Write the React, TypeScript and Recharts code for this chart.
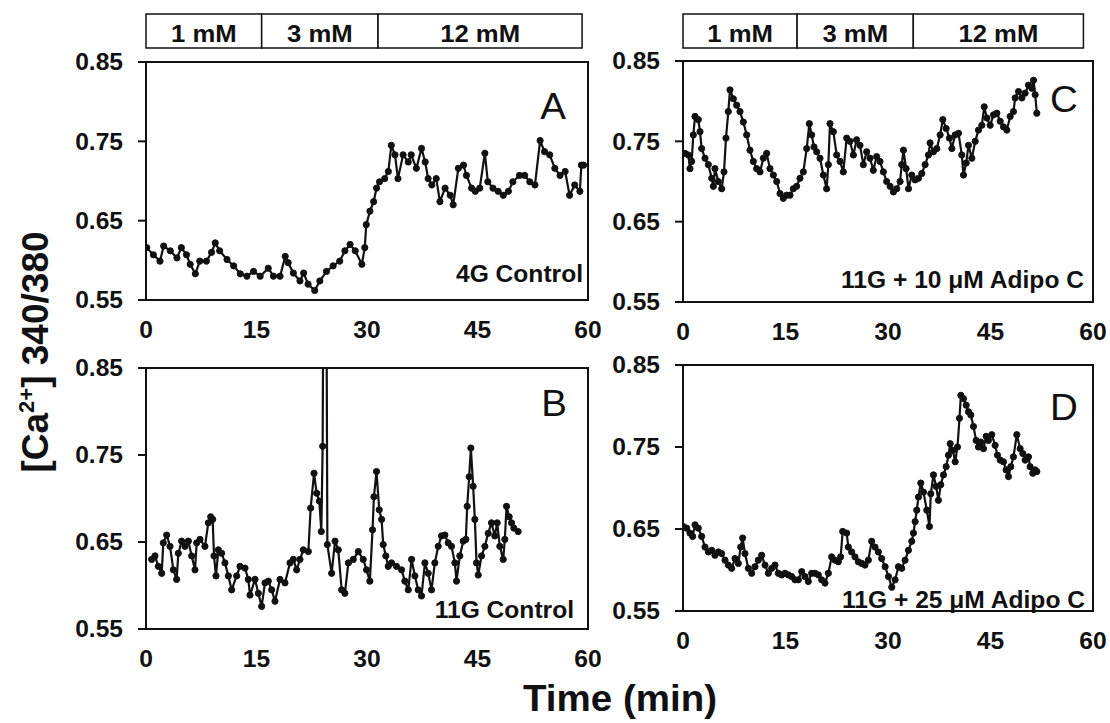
import { Line, LineChart, ReferenceArea, XAxis, YAxis } from 'recharts'

// time (min) and fura-2 ratio
const timeA = [
  0.1, 1.0, 1.9, 2.4, 3.3, 4.2, 4.8, 5.5, 6.0, 6.7,
  7.3, 8.2, 8.9, 9.4, 10.0, 11.0, 11.9, 12.8, 13.7, 14.6,
  15.5, 16.6, 17.3, 18.2, 18.9, 19.3, 20.0, 20.9, 21.4, 22.0,
  22.9, 23.6, 24.5, 25.4, 26.3, 27.0, 27.7, 28.4, 29.3, 29.7,
  29.9, 30.4, 30.9, 31.3, 31.7, 32.4, 32.9, 33.3, 33.8, 34.2,
  34.9, 35.6, 36.0, 36.7, 37.4, 37.9, 38.3, 38.8, 39.4, 39.9,
  40.6, 41.3, 41.7, 42.4, 43.1, 43.5, 44.2, 44.7, 45.3, 46.0,
  46.4, 47.1, 47.8, 48.5, 49.2, 49.8, 50.7, 51.4, 52.1, 52.8,
  53.5, 54.1, 54.8, 55.5, 56.2, 56.9, 57.5, 58.2, 58.9, 59.1,
  59.4,
]
const ratioA = [
  0.616, 0.607, 0.599, 0.618, 0.612, 0.603, 0.616, 0.607, 0.595, 0.583,
  0.599, 0.599, 0.61, 0.622, 0.612, 0.601, 0.593, 0.583, 0.58, 0.586,
  0.58, 0.59, 0.58, 0.58, 0.605, 0.597, 0.584, 0.574, 0.584, 0.57,
  0.562, 0.574, 0.586, 0.593, 0.599, 0.612, 0.62, 0.612, 0.595, 0.616,
  0.645, 0.662, 0.674, 0.691, 0.699, 0.703, 0.712, 0.745, 0.733, 0.703,
  0.733, 0.724, 0.733, 0.716, 0.741, 0.724, 0.703, 0.695, 0.703, 0.674,
  0.691, 0.682, 0.67, 0.716, 0.72, 0.707, 0.691, 0.687, 0.691, 0.735,
  0.699, 0.691, 0.687, 0.682, 0.687, 0.699, 0.707, 0.707, 0.699, 0.695,
  0.751, 0.737, 0.733, 0.716, 0.707, 0.712, 0.682, 0.695, 0.687, 0.72,
  0.72,
]

const timeB = [
  0.77, 1.22, 1.67, 2.13, 2.35, 2.81, 3.26, 3.71, 4.16, 4.39,
  4.84, 5.29, 5.75, 6.2, 6.65, 6.88, 7.33, 8.0, 8.46, 8.78,
  9.05, 9.23, 9.5, 9.82, 10.27, 10.72, 11.18, 11.63, 12.31, 12.76,
  13.44, 13.89, 14.12, 14.8, 15.25, 15.7, 16.15, 16.6, 17.06, 17.51,
  18.19, 18.87, 19.55, 20.0, 20.45, 20.9, 21.36, 22.04, 22.35, 22.81,
  23.17, 23.53, 23.8, 23.98, 24.3, 24.62, 25.2, 25.66, 26.1, 26.56,
  27.0, 27.47, 28.14, 28.82, 29.49, 29.94, 30.39, 30.75, 30.94, 31.29,
  31.66, 31.98, 32.2, 32.56, 32.88, 33.33, 34.0, 34.69, 35.14, 35.6,
  36.05, 36.5, 36.95, 37.4, 37.86, 38.31, 38.76, 39.21, 39.67, 40.12,
  40.57, 41.02, 41.47, 41.93, 42.15, 42.6, 43.06, 43.42, 43.6, 43.87,
  44.1, 44.41, 44.64, 44.87, 45.1, 45.55, 46.0, 46.45, 46.9, 47.35,
  47.67, 48.03, 48.49, 48.71, 48.94, 49.3, 49.62, 49.93, 50.52,
]
const ratioB = [
  0.63, 0.634, 0.622, 0.614, 0.649, 0.658, 0.645, 0.618, 0.607, 0.637,
  0.651, 0.645, 0.651, 0.634, 0.618, 0.649, 0.653, 0.645, 0.672, 0.679,
  0.676, 0.634, 0.611, 0.641, 0.637, 0.626, 0.611, 0.595, 0.611, 0.622,
  0.62, 0.607, 0.589, 0.607, 0.591, 0.576, 0.603, 0.605, 0.595, 0.582,
  0.607, 0.603, 0.626, 0.63, 0.618, 0.63, 0.641, 0.639, 0.689, 0.729,
  0.706, 0.697, 0.662, 0.76, 1.4, 0.647, 0.614, 0.651, 0.641, 0.595,
  0.591, 0.626, 0.63, 0.639, 0.63, 0.618, 0.605, 0.664, 0.702, 0.731,
  0.687, 0.676, 0.647, 0.634, 0.622, 0.626, 0.622, 0.618, 0.605, 0.595,
  0.63, 0.611, 0.595, 0.588, 0.626, 0.614, 0.595, 0.626, 0.645, 0.657,
  0.658, 0.649, 0.645, 0.626, 0.605, 0.634, 0.651, 0.653, 0.691, 0.725,
  0.758, 0.714, 0.676, 0.626, 0.612, 0.634, 0.645, 0.66, 0.672, 0.657,
  0.672, 0.645, 0.63, 0.653, 0.691, 0.679, 0.672, 0.666, 0.662,
]

const timeC = [
  0.29, 0.78, 1.02, 1.27, 1.51, 1.76, 2.24, 2.49, 2.73, 3.22,
  3.71, 4.2, 4.44, 4.68, 5.17, 5.66, 6.0, 6.29, 6.63, 6.88,
  7.37, 7.85, 8.34, 8.83, 9.32, 9.8, 10.29, 10.78, 11.27, 11.76,
  12.24, 12.73, 13.22, 13.71, 14.2, 14.68, 15.17, 15.66, 16.15, 16.63,
  17.12, 17.61, 18.1, 18.49, 18.83, 19.17, 19.56, 20.05, 20.54, 21.02,
  21.27, 21.51, 22.0, 22.49, 22.98, 23.46, 23.95, 24.44, 24.93, 25.41,
  25.9, 26.39, 26.88, 27.37, 27.85, 28.34, 28.83, 29.32, 29.8, 30.31,
  30.79, 31.28, 31.77, 32.01, 32.26, 32.65, 33.0, 33.48, 33.97, 34.46,
  34.95, 35.43, 35.92, 36.16, 36.65, 37.14, 37.63, 38.02, 38.51, 39.0,
  39.34, 39.83, 40.32, 40.8, 41.05, 41.44, 41.78, 42.27, 42.76, 43.24,
  43.73, 44.08, 44.47, 44.95, 45.44, 45.93, 46.42, 46.9, 47.39, 47.88,
  48.36, 48.61, 49.1, 49.59, 50.07, 50.56, 51.05, 51.3, 51.54, 51.78,
]
const ratioC = [
  0.735, 0.733, 0.716, 0.725, 0.758, 0.781, 0.777, 0.762, 0.741, 0.729,
  0.721, 0.704, 0.694, 0.716, 0.7, 0.691, 0.712, 0.754, 0.787, 0.814,
  0.803, 0.795, 0.787, 0.774, 0.758, 0.739, 0.725, 0.716, 0.712, 0.729,
  0.735, 0.716, 0.708, 0.7, 0.685, 0.679, 0.683, 0.683, 0.691, 0.694,
  0.704, 0.712, 0.741, 0.772, 0.758, 0.743, 0.737, 0.729, 0.708, 0.691,
  0.721, 0.772, 0.762, 0.733, 0.725, 0.712, 0.754, 0.75, 0.733, 0.752,
  0.745, 0.721, 0.737, 0.729, 0.714, 0.731, 0.725, 0.712, 0.7, 0.694,
  0.687, 0.691, 0.7, 0.721, 0.739, 0.716, 0.691, 0.708, 0.702, 0.704,
  0.71, 0.721, 0.733, 0.748, 0.737, 0.741, 0.758, 0.777, 0.766, 0.754,
  0.741, 0.758, 0.76, 0.733, 0.708, 0.723, 0.745, 0.729, 0.75, 0.764,
  0.77, 0.793, 0.779, 0.77, 0.783, 0.785, 0.775, 0.768, 0.764, 0.781,
  0.787, 0.804, 0.812, 0.804, 0.81, 0.82, 0.816, 0.826, 0.808, 0.785,
]

const timeD = [
  0.05, 0.54, 1.02, 1.41, 1.76, 2.24, 2.73, 3.22, 3.71, 4.2,
  4.68, 5.17, 5.66, 6.15, 6.63, 7.12, 7.61, 8.1, 8.44, 8.73,
  9.07, 9.56, 10.05, 10.54, 11.02, 11.51, 12.0, 12.49, 12.98, 13.46,
  13.95, 14.44, 14.93, 15.41, 15.9, 16.39, 16.88, 17.37, 17.85, 18.34,
  18.83, 19.32, 19.8, 20.29, 20.78, 21.27, 21.76, 22.24, 22.73, 23.07,
  23.37, 23.95, 24.2, 24.68, 25.17, 25.66, 26.15, 26.63, 27.12, 27.61,
  28.1, 28.59, 29.07, 29.58, 30.07, 30.55, 31.04, 31.53, 32.01, 32.5,
  32.99, 33.48, 33.72, 33.97, 34.21, 34.46, 34.8, 35.19, 35.68, 36.07,
  36.26, 36.65, 37.04, 37.38, 37.72, 38.12, 38.51, 38.85, 39.1, 39.48,
  39.83, 40.17, 40.46, 40.66, 41.05, 41.44, 41.78, 42.12, 42.51, 42.9,
  43.24, 43.58, 43.97, 44.36, 44.7, 45.19, 45.68, 46.02, 46.42, 46.9,
  47.29, 47.63, 47.97, 48.36, 48.85, 49.34, 49.73, 50.07, 50.56, 50.8,
  51.19, 51.54, 51.78,
]
const ratioD = [
  0.653, 0.651, 0.645, 0.641, 0.655, 0.651, 0.641, 0.628, 0.622, 0.624,
  0.618, 0.622, 0.62, 0.612, 0.606, 0.602, 0.614, 0.608, 0.628, 0.639,
  0.62, 0.602, 0.596, 0.604, 0.612, 0.618, 0.606, 0.596, 0.602, 0.606,
  0.596, 0.594, 0.596, 0.594, 0.592, 0.588, 0.588, 0.598, 0.592, 0.586,
  0.596, 0.596, 0.594, 0.588, 0.584, 0.596, 0.616, 0.612, 0.61, 0.616,
  0.647, 0.645, 0.628, 0.622, 0.616, 0.61, 0.608, 0.606, 0.612, 0.635,
  0.628, 0.622, 0.614, 0.604, 0.592, 0.579, 0.588, 0.604, 0.602, 0.612,
  0.624, 0.635, 0.645, 0.659, 0.673, 0.689, 0.706, 0.695, 0.673, 0.653,
  0.693, 0.716, 0.702, 0.685, 0.704, 0.716, 0.726, 0.74, 0.754, 0.746,
  0.732, 0.75, 0.785, 0.813, 0.809, 0.801, 0.793, 0.789, 0.775, 0.758,
  0.75, 0.756, 0.748, 0.763, 0.758, 0.765, 0.752, 0.74, 0.734, 0.732,
  0.722, 0.714, 0.726, 0.738, 0.765, 0.748, 0.742, 0.734, 0.738, 0.726,
  0.718, 0.722, 0.72,
]

// glucose steps shown above each column (min)
const doseLabels = ['1 mM', '3 mM', '12 mM']
const doseBoundsLeft = [0, 15.7, 31.5, 59.2]
const doseBoundsRight = [0, 16.7, 33.7, 58.6]

const xTicks = [0, 15, 30, 45, 60]
const yTicks = [0.55, 0.65, 0.75, 0.85]

const FONT = '"Liberation Sans", Arial, Helvetica, sans-serif'
const SX = 1.07
const INK = '#111'
const AXIS_W = 140
const AXIS_H = 50
const PAD = 15

const frames = {
  A: { left: 146, top: 62, right: 588, bottom: 300 },
  B: { left: 146, top: 368, right: 588, bottom: 629 },
  C: { left: 683, top: 61, right: 1093, bottom: 302 },
  D: { left: 683, top: 365, right: 1093, bottom: 611 },
}

type Frame = { left: number; top: number; right: number; bottom: number }

function YTick({ x, y, payload }: any) {
  return (
    <text transform={`translate(${x - 15},${y}) scale(${SX},1)`} textAnchor="end" dominantBaseline="central"
      fontFamily={FONT} fontSize={23} fontWeight="bold" fill={INK}>
      {Number(payload.value).toFixed(2)}
    </text>
  )
}

function XTick({ x, y, payload }: any) {
  return (
    <text transform={`translate(${x},${y + 38}) scale(${SX},1)`} textAnchor="middle"
      fontFamily={FONT} fontSize={23} fontWeight="bold" fill={INK}>
      {payload.value}
    </text>
  )
}

function TracePanel({ time, ratio, frame }: { time: number[]; ratio: number[]; frame: Frame }) {
  const data = time.map((t, i) => ({ t, ratio: ratio[i] }))
  const width = frame.right - frame.left + AXIS_W + PAD
  const height = frame.bottom - frame.top + PAD + AXIS_H
  return (
    <div style={{ position: 'absolute', left: frame.left - AXIS_W, top: frame.top - PAD }}>
      <LineChart width={width} height={height} data={data} margin={{ top: PAD, right: PAD, bottom: 0, left: 0 }}>
        <XAxis type="number" dataKey="t" domain={[0, 60]} ticks={xTicks} interval={0} allowDataOverflow
          height={AXIS_H} tickLine={false} tickSize={0} tickMargin={0}
          axisLine={{ stroke: INK, strokeWidth: 2 }} tick={(p: any) => <XTick {...p} />} />
        <YAxis type="number" domain={[0.55, 0.85]} ticks={yTicks} interval={0} allowDataOverflow
          width={AXIS_W} tickSize={8} tickMargin={0} tickLine={{ stroke: INK, strokeWidth: 2 }}
          axisLine={{ stroke: INK, strokeWidth: 2 }} tick={(p: any) => <YTick {...p} />} />
        <ReferenceArea x1={0} x2={60} y1={0.55} y2={0.85} fill="none" fillOpacity={0} stroke={INK} strokeWidth={2} />
        <Line type="linear" dataKey="ratio" stroke={INK} strokeWidth={2.2} isAnimationActive={false}
          dot={{ r: 3.1, fill: INK, stroke: INK, strokeWidth: 1 }} />
      </LineChart>
    </div>
  )
}

function DoseBar({ bounds, frame }: { bounds: number[]; frame: Frame }) {
  const data = bounds.map((t) => ({ t, level: 0.5 }))
  return (
    <div style={{ position: 'absolute', left: frame.left - 4, top: 12 }}>
      <LineChart width={frame.right - frame.left + 8} height={38} data={data} margin={{ top: 2, right: 4, bottom: 2, left: 4 }}>
        <XAxis type="number" dataKey="t" domain={[0, 60]} hide />
        <YAxis type="number" domain={[0, 1]} hide />
        {doseLabels.map((label, i) => (
          <ReferenceArea key={label} x1={bounds[i]} x2={bounds[i + 1]} y1={0} y2={1} fill="#fff" fillOpacity={1}
            stroke={INK} strokeWidth={1.5}
            label={(p: any) => {
              const vb = p.viewBox
              return (
                <text transform={`translate(${vb.x + vb.width / 2},${vb.y + vb.height - 6}) scale(${SX},1)`}
                  textAnchor="middle" fontFamily={FONT} fontSize={24} fontWeight="bold" fill={INK}>
                  {label}
                </text>
              )
            }} />
        ))}
        <Line dataKey="level" stroke="none" dot={false} activeDot={false} isAnimationActive={false} />
      </LineChart>
    </div>
  )
}

const letters = [
  { text: 'A', x: 553, y: 119 },
  { text: 'B', x: 554, y: 416 },
  { text: 'C', x: 1064, y: 112 },
  { text: 'D', x: 1064, y: 420 },
]
const notes = [
  { text: '4G Control', x: 583, y: 282 },
  { text: '11G Control', x: 574, y: 618 },
  { text: '11G + 10 μM Adipo C', x: 1084, y: 288 },
  { text: '11G + 25 μM Adipo C', x: 1085, y: 608 },
]

export default function App() {
  return (
    <div style={{ position: 'absolute', left: 0, top: 0, width: 1110, height: 723, background: '#fff', overflow: 'hidden' }}>
      <DoseBar bounds={doseBoundsLeft} frame={frames.A} />
      <DoseBar bounds={doseBoundsRight} frame={frames.C} />
      <TracePanel time={timeA} ratio={ratioA} frame={frames.A} />
      <TracePanel time={timeB} ratio={ratioB} frame={frames.B} />
      <TracePanel time={timeC} ratio={ratioC} frame={frames.C} />
      <TracePanel time={timeD} ratio={ratioD} frame={frames.D} />
      <svg width={1110} height={723} style={{ position: 'absolute', left: 0, top: 0, pointerEvents: 'none' }}>
        <text transform="translate(48,352) rotate(-90)" textAnchor="middle" fontFamily={FONT} fontSize={37} fontWeight="bold" fill={INK}>
          [Ca<tspan dy={-14} fontSize={22}>2+</tspan><tspan dy={14}>] 340/380</tspan>
        </text>
        <text transform={`translate(620,711) scale(${SX},1)`} textAnchor="middle" fontFamily={FONT} fontSize={36} fontWeight="bold" fill={INK}>
          Time (min)
        </text>
        {letters.map((l) => (
          <text key={l.text} transform={`translate(${l.x},${l.y}) scale(${SX},1)`} textAnchor="middle" fontFamily={FONT} fontSize={36} fill={INK}>
            {l.text}
          </text>
        ))}
        {notes.map((n) => (
          <text key={n.text} transform={`translate(${n.x},${n.y}) scale(${SX},1)`} textAnchor="end" fontFamily={FONT} fontSize={23} fontWeight="bold" fill={INK}>
            {n.text}
          </text>
        ))}
      </svg>
    </div>
  )
}
